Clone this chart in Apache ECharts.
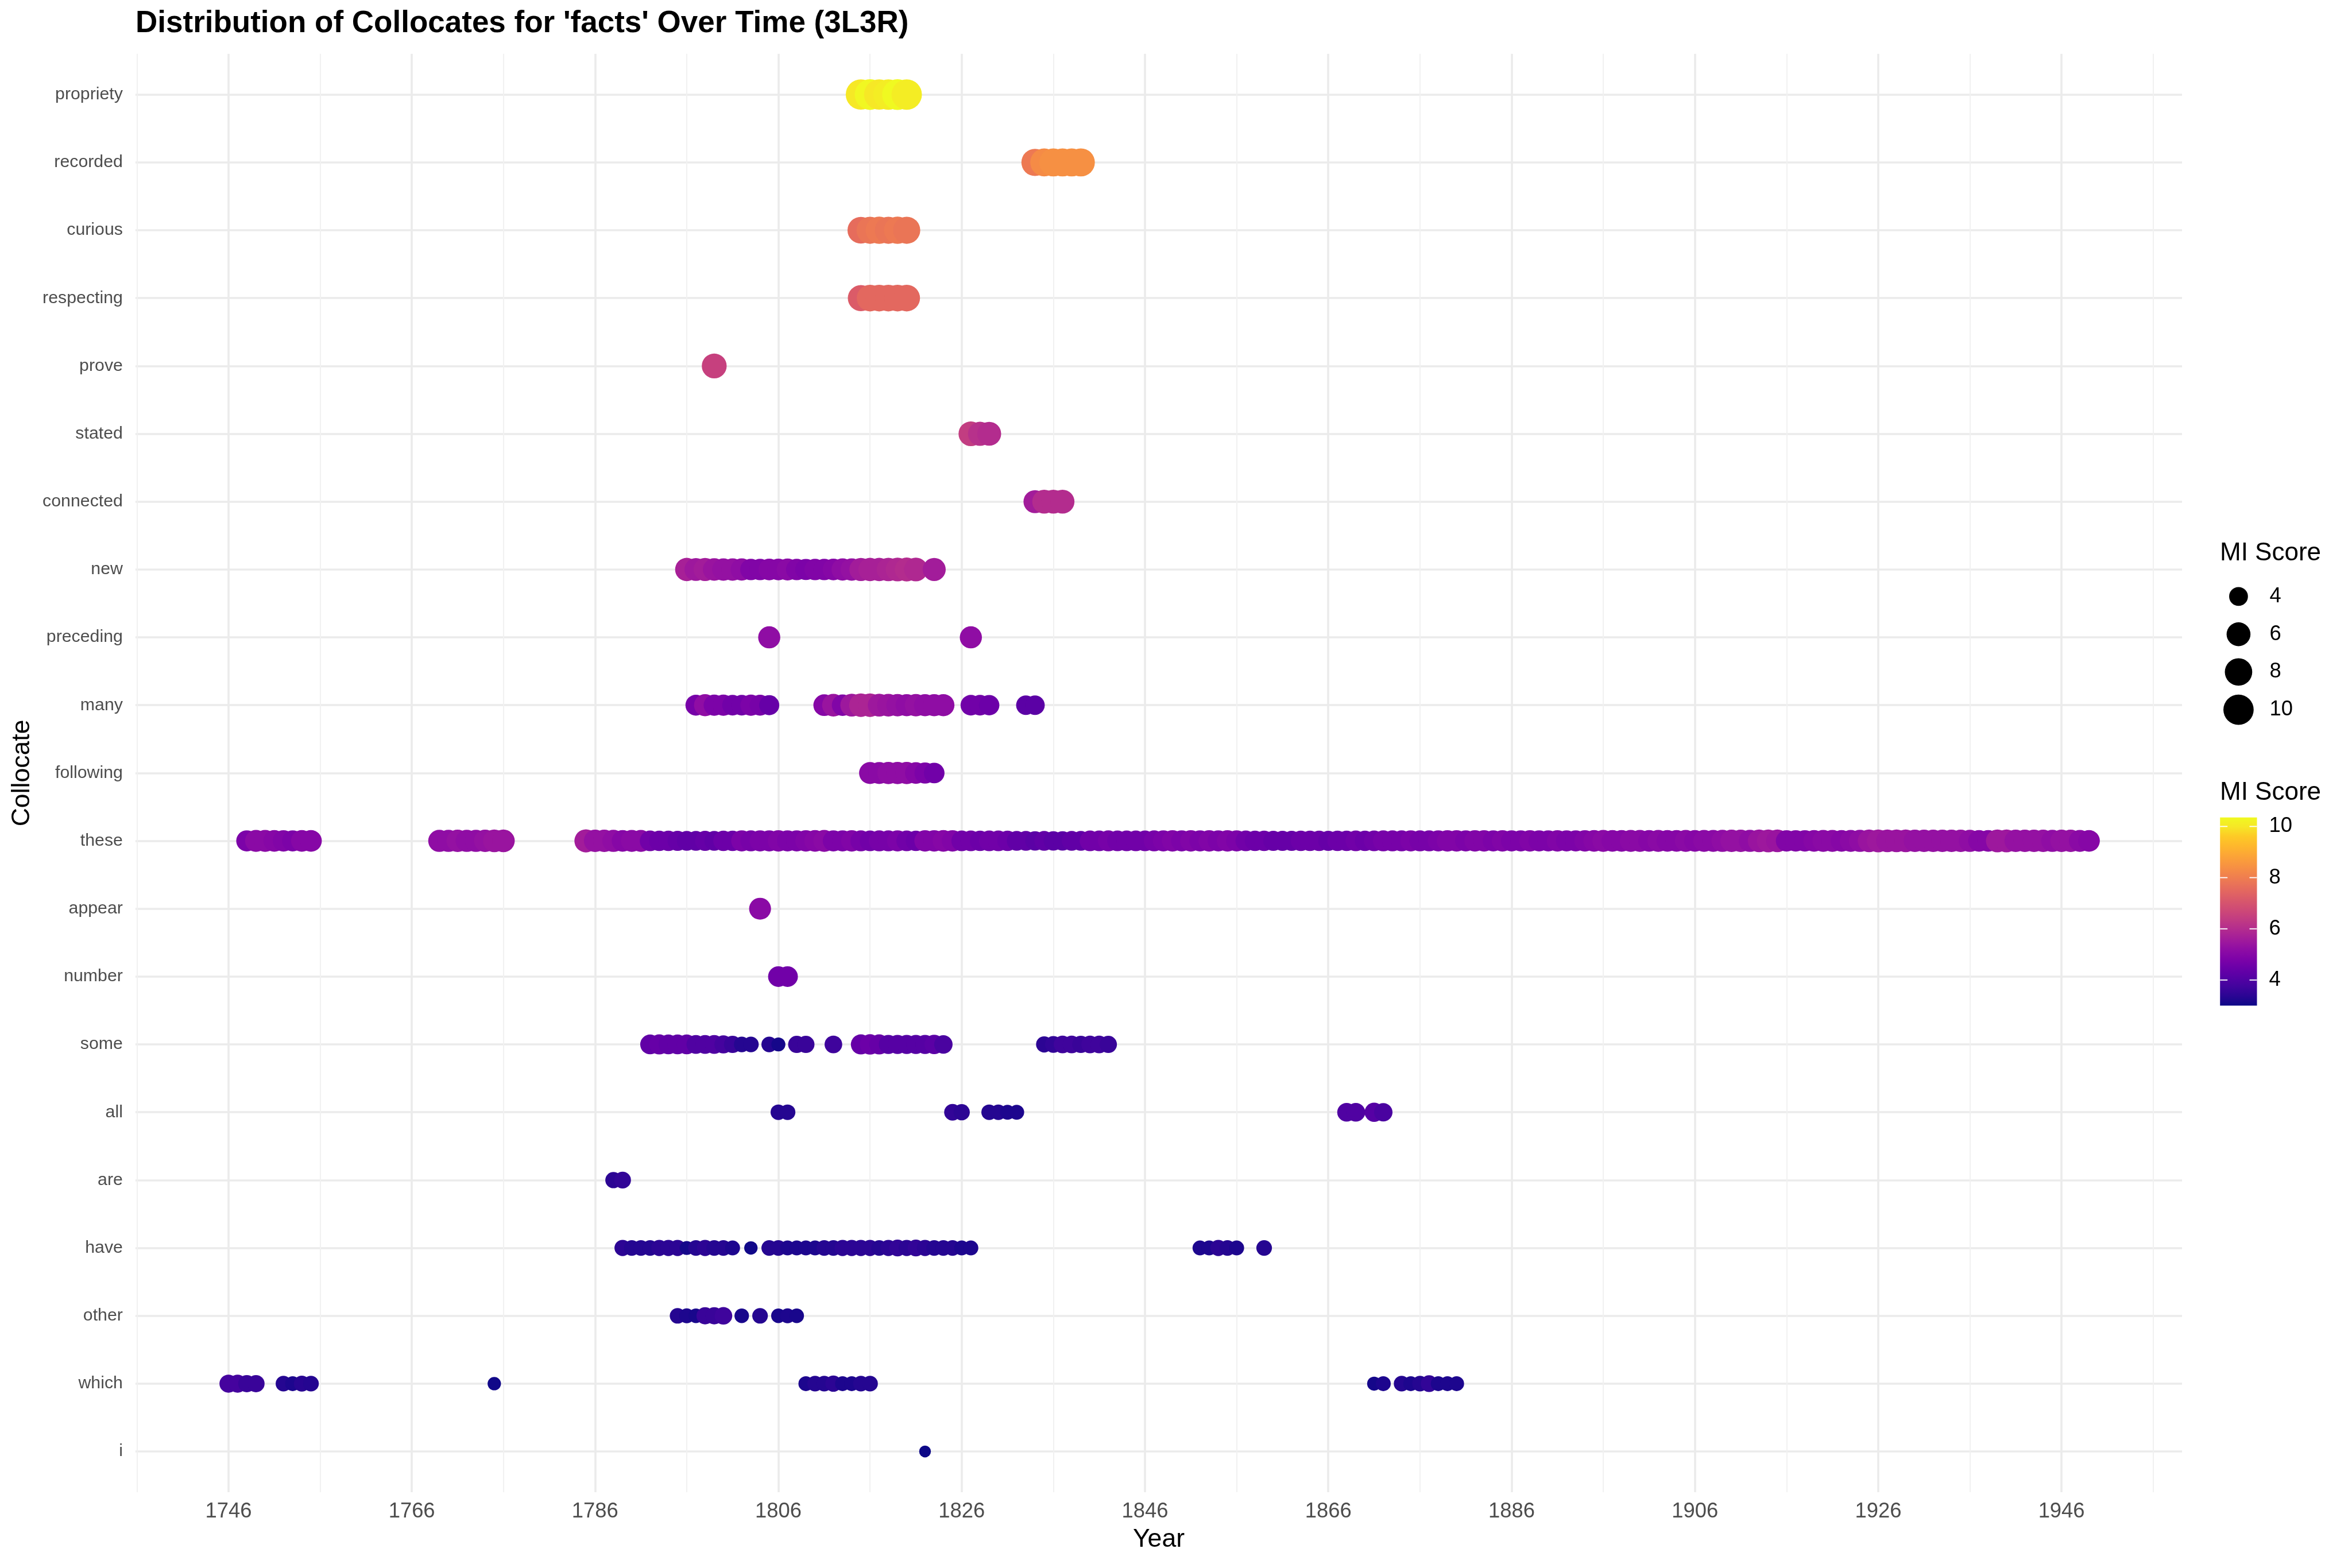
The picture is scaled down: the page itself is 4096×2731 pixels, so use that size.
<!DOCTYPE html>
<html><head><meta charset="utf-8">
<script src="https://cdn.jsdelivr.net/npm/echarts@6/dist/echarts.min.js"></script>
<style>html,body{margin:0;padding:0;background:#fff}#chart{width:4096px;height:2731px}</style>
</head><body><div id="chart"></div>
<script>
// ---------------- DATA ----------------
const collocates = ['i','which','other','have','are','all','some','number','appear','these','following','many','preceding','new','connected','stated','prove','respecting','curious','recorded','propriety'];
const xTickLabels = [1746,1766,1786,1806,1826,1846,1866,1886,1906,1926,1946];
const xMinorBreaks = [1736,1756,1776,1796,1816,1836,1856,1876,1896,1916,1936,1956];
const colorTicks = [4,6,8,10];
const sizeBreaks = [4,6,8,10];

const yrs_i = [1822];
const mi_i = [3.0];

const yrs_which = [1746,1747,1748,1749,1752,1753,1754,1755,1775,1809,1810,1811,1812,1813,1814,1815,1816,1871,1872,1874,1875,1876,1877,1878,1879,1880];
const mi_which  = [3.8,3.8,3.6,3.6,3.3,3.2,3.35,3.3,3.05,3.2,3.3,3.3,3.4,3.2,3.2,3.3,3.3,3.1,3.2,3.3,3.2,3.3,3.5,3.2,3.2,3.2];

const yrs_other = [1795,1796,1797,1798,1799,1800,1802,1804,1806,1807,1808];
const mi_other  = [3.3,3.2,3.15,3.6,3.6,3.7,3.15,3.3,3.15,3.2,3.15];

const yrs_have = [1789,1790,1791,1792,1793,1794,1795,1796,1797,1798,1799,1800,1801,1803,
  1805,1806,1807,1808,1809,1810,1811,1812,1813,1814,1815,1816,1817,1818,1819,1820,1821,1822,1823,1824,1825,1826,1827,
  1852,1853,1854,1855,1856,1859];
const mi_have  = [3.4,3.3,3.3,3.3,3.4,3.4,3.4,3.1,3.3,3.4,3.3,3.3,3.2,3.05,
  3.3,3.3,3.2,3.2,3.2,3.2,3.3,3.3,3.4,3.4,3.4,3.4,3.3,3.4,3.5,3.4,3.5,3.4,3.3,3.3,3.3,3.2,3.2,
  3.2,3.2,3.4,3.3,3.2,3.3];

const yrs_are = [1788,1789];
const mi_are  = [3.4,3.5];

const yrs_all = [1806,1807,1825,1826,1829,1830,1831,1832,1868,1869,1871,1872];
const mi_all  = [3.3,3.3,3.5,3.4,3.3,3.3,3.2,3.2,4.0,4.0,4.1,3.9];

const yrs_some = [1792,1793,1794,1795,1796,1797,1798,1799,1800,1801,1802,1803,1805,1806,1808,1809,1812,
  1815,1816,1817,1818,1819,1820,1821,1822,1823,1824,1835,1836,1837,1838,1839,1840,1841,1842];
const mi_some  = [4.3,4.4,4.3,4.3,4.3,4.0,4.0,4.0,3.8,3.6,3.3,3.3,3.3,3.1,3.6,3.6,3.7,
  4.4,4.5,4.4,4.1,4.1,4.1,4.1,4.1,4.2,3.9,3.4,3.5,3.7,3.7,3.6,3.7,3.7,3.6];

const yrs_number = [1806,1807];
const mi_number  = [4.6,4.6];

const yrs_appear = [1804];
const mi_appear  = [5.1];

const yrs_these = [1748,1749,1750,1751,1752,1753,1754,1755,
  1769,1770,1771,1772,1773,1774,1775,1776,
  1785,1786,1787,1788,1789,1790,1791,1792,1793,1794,
  1795,1796,1797,1798,1799,1800,1801,1802,1803,1804,
  1805,1806,1807,1808,1809,1810,1811,1812,1813,1814,
  1815,1816,1817,1818,1819,1820,1821,1822,1823,1824,
  1825,1826,1827,1828,1829,1830,1831,1832,1833,1834,
  1835,1836,1837,1838,1839,1840,1841,1842,1843,1844,
  1845,1846,1847,1848,1849,1850,1851,1852,1853,1854,
  1855,1856,1857,1858,1859,1860,1861,1862,1863,1864,
  1865,1866,1867,1868,1869,1870,1871,1872,1873,1874,
  1875,1876,1877,1878,1879,1880,1881,1882,1883,1884,
  1885,1886,1887,1888,1889,1890,1891,1892,1893,1894,
  1895,1896,1897,1898,1899,1900,1901,1902,1903,1904,
  1905,1906,1907,1908,1909,1910,1911,1912,1913,1914,
  1915,1916,1917,1918,1919,1920,1921,1922,1923,1924,
  1925,1926,1927,1928,1929,1930,1931,1932,1933,1934,
  1935,1936,1937,1938,1939,1940,1941,1942,1943,1944,
  1945,1946,1947,1948,1949];
const mi_these = [4.8,5.1,5.1,5.0,4.9,4.8,5.0,5.0,
  5.2,5.2,5.3,5.2,5.2,5.3,5.4,5.4,
  5.6,5.3,5.3,5.2,5.0,5.1,5.1,4.6,4.5,4.5,
  4.4,4.3,4.3,4.4,4.3,4.5,4.5,4.8,4.7,4.8,
  4.8,4.9,4.8,4.8,4.9,5.0,5.1,4.8,4.8,4.9,
  4.7,4.6,4.7,4.7,4.8,4.6,4.5,4.9,4.9,5.0,
  4.9,4.6,4.6,4.5,4.6,4.6,4.5,4.3,4.3,4.2,
  4.3,4.2,4.2,4.3,4.3,4.6,4.6,4.7,4.6,4.6,
  4.6,4.6,4.7,4.8,4.9,4.8,4.9,4.8,4.9,4.8,
  4.9,4.8,4.6,4.5,4.5,4.4,4.4,4.4,4.5,4.5,
  4.5,4.4,4.5,4.5,4.6,4.5,4.6,4.7,4.7,4.7,
  4.8,4.7,4.7,4.8,4.9,4.9,4.8,4.9,4.9,4.8,
  4.9,4.8,4.8,4.9,4.8,4.8,4.9,4.8,4.8,4.9,
  5.0,5.1,5.0,5.0,5.1,5.1,5.0,5.1,5.0,5.0,
  5.1,5.0,5.1,5.1,5.2,5.3,5.3,5.2,5.4,5.5,
  5.4,4.9,4.9,4.9,5.0,5.1,5.1,5.0,5.1,5.2,
  5.4,5.5,5.4,5.4,5.4,5.3,5.3,5.3,5.3,5.3,
  5.3,5.2,5.0,5.0,5.5,5.5,5.3,5.3,5.3,5.3,
  5.2,5.3,5.3,5.1,5.0];

const yrs_following = [1816,1817,1818,1819,1820,1821,1822,1823];
const mi_following  = [5.1,5.1,5.2,5.2,5.2,5.0,4.8,4.6];

const yrs_many = [1797,1798,1799,1800,1801,1802,1803,1804,1805,
  1811,1812,1813,1814,1815,1816,1817,1818,1819,1820,1821,1822,1823,1824,
  1827,1828,1829,1833,1834];
const mi_many  = [4.7,5.2,4.8,4.8,4.6,4.6,4.8,4.7,4.4,
  5.0,5.4,4.9,5.5,5.8,5.8,5.5,5.4,5.3,5.2,5.3,5.2,5.2,5.2,
  4.6,4.6,4.5,4.2,4.2];

const yrs_preceding = [1805,1827];
const mi_preceding  = [5.2,5.2];

const yrs_new = [1796,1797,1798,1799,1800,1801,1802,1803,1804,1805,1806,1807,1808,1809,1810,
  1811,1812,1813,1814,1815,1816,1817,1818,1819,1820,1821,1823];
const mi_new  = [5.7,5.5,5.6,5.4,5.3,5.3,5.2,4.9,4.9,5.0,5.0,5.1,4.9,4.8,4.9,
  4.9,5.0,5.2,5.3,5.6,5.7,5.7,5.8,5.9,6.0,5.9,5.6];

const yrs_connected = [1834,1835,1836,1837];
const mi_connected  = [5.6,6.0,6.0,6.0];

const yrs_stated = [1827,1828,1829];
const mi_stated  = [6.4,6.1,6.0];

const yrs_prove = [1799];
const mi_prove  = [6.5];

const yrs_respecting = [1815,1816,1817,1818,1819,1820];
const mi_respecting  = [7.2,7.5,7.5,7.5,7.5,7.5];

const yrs_curious = [1815,1816,1817,1818,1819,1820];
const mi_curious  = [7.6,7.8,7.9,7.8,7.9,7.8];

const yrs_recorded = [1834,1835,1836,1837,1838,1839];
const mi_recorded  = [7.9,8.3,8.4,8.4,8.4,8.4];

const yrs_propriety = [1815,1816,1817,1818,1819,1820];
const mi_propriety  = [10.0,10.3,10.0,10.1,10.35,10.1];

// ---------------- BUILD ----------------
const rowData = [
  [yrs_i,mi_i],[yrs_which,mi_which],[yrs_other,mi_other],[yrs_have,mi_have],[yrs_are,mi_are],
  [yrs_all,mi_all],[yrs_some,mi_some],[yrs_number,mi_number],[yrs_appear,mi_appear],[yrs_these,mi_these],
  [yrs_following,mi_following],[yrs_many,mi_many],[yrs_preceding,mi_preceding],[yrs_new,mi_new],
  [yrs_connected,mi_connected],[yrs_stated,mi_stated],[yrs_prove,mi_prove],[yrs_respecting,mi_respecting],
  [yrs_curious,mi_curious],[yrs_recorded,mi_recorded],[yrs_propriety,mi_propriety]
];
const points = [];
rowData.forEach((r, idx) => r[0].forEach((yr, k) => points.push([yr, idx, r[1][k]])));
const everyMI = points.map(p => p[2]);
const everyYear = points.map(p => p[0]);
const miMin = Math.min(...everyMI), miMax = Math.max(...everyMI);
const yrMin = Math.min(...everyYear), yrMax = Math.max(...everyYear);
const xPad = (yrMax - yrMin) * 0.05;

const S = 0.91;
const FONT = '"Liberation Sans", Arial, Helvetica, sans-serif';
function sizeOf(v){ return S * (22.6 + 36.2 * Math.sqrt(Math.max(0,(v - miMin)) / (miMax - miMin))); }

const plasma = ['#0d0887','#2a0593','#41049d','#5601a4','#6a00a8','#7e03a8','#8f0da4','#a11b9b','#b12a90','#bf3984',
  '#cc4778','#d6556d','#e16462','#ea7457','#f2844b','#f89540','#fca636','#feb82c','#fdca26','#f6e726','#f0f921'];

const chart = echarts.init(document.getElementById('chart'), null, {renderer:'canvas'});
const gridMain = {left:235.9, top:93.8, width:3564.1, height:2505.2};

chart.setOption({
  animation:false,
  backgroundColor:'#ffffff',
  textStyle:{fontFamily:FONT},
  grid:[
    gridMain,
    {left:3866.2, top:1423.8, width:64.3, height:327.7},
    {left:3870, top:1006, width:56.8, height:263}
  ],
  xAxis:[
    {type:'value', gridIndex:0, min:yrMin - xPad, max:yrMax + xPad, position:'bottom',
     axisLine:{show:false}, axisTick:{show:false, customValues:xTickLabels},
     axisLabel:{customValues:xTickLabels, formatter:(v)=>String(Math.round(v)), fontSize:36.4, color:'#4D4D4D', margin:16, fontFamily:FONT},
     splitLine:{show:true, lineStyle:{color:'#EBEBEB', width:3.6}}, z:1},
    {type:'value', gridIndex:0, min:yrMin - xPad, max:yrMax + xPad, position:'top',
     axisLine:{show:false}, axisTick:{show:false, customValues:xMinorBreaks},
     axisLabel:{show:false, customValues:xMinorBreaks},
     splitLine:{show:true, lineStyle:{color:'#F1F1F1', width:2}}, z:0},
    {type:'value', gridIndex:1, min:0, max:1, show:false},
    {type:'value', gridIndex:2, min:0, max:1, show:false}
  ],
  yAxis:[
    {type:'value', gridIndex:0, min:-0.6, max:collocates.length - 1 + 0.6,
     axisLine:{show:false}, axisTick:{show:false, customValues:collocates.map((c,i)=>i)},
     axisLabel:{customValues:collocates.map((c,i)=>i), formatter:(v)=>collocates[Math.round(v)],
       fontSize:30.3, color:'#4D4D4D', margin:22, fontFamily:FONT},
     splitLine:{show:true, lineStyle:{color:'#EBEBEB', width:3.6}}},
    {type:'value', gridIndex:1, min:miMin, max:miMax, position:'right',
     axisLine:{show:false}, axisTick:{show:false, customValues:colorTicks},
     axisLabel:{customValues:colorTicks, formatter:(v)=>String(Math.round(v)), fontSize:36.4, color:'#000000', margin:21, fontFamily:FONT},
     splitLine:{show:false}},
    {type:'value', gridIndex:2, min:3, max:11, inverse:true, show:false}
  ],
  visualMap:[{type:'continuous', show:false, min:miMin, max:miMax, dimension:2, seriesIndex:0,
    inRange:{color:plasma}}],
  series:[
    {type:'scatter', xAxisIndex:0, yAxisIndex:0, data:points, symbol:'circle',
     symbolSize:(val)=>sizeOf(val[2]), itemStyle:{opacity:1}, silent:true, z:3,
     emphasis:{disabled:true}, large:false},
    {type:'custom', xAxisIndex:2, yAxisIndex:1, data:[[0, miMin]], silent:true, clip:false,
     renderItem:(params, api) => {
       const cs = params.coordSys;
       const stops = plasma.map((c,i)=>({offset:i/(plasma.length-1), color:c}));
       const children = [{type:'rect', shape:{x:cs.x, y:cs.y, width:cs.width, height:cs.height},
         style:{fill:new echarts.graphic.LinearGradient(0,1,0,0,stops)}}];
       colorTicks.forEach(v => {
         const y = api.coord([0, v])[1];
         children.push({type:'line', shape:{x1:cs.x, y1:y, x2:cs.x+13, y2:y}, style:{stroke:'#ffffff', lineWidth:1.8}});
         children.push({type:'line', shape:{x1:cs.x+cs.width-13, y1:y, x2:cs.x+cs.width, y2:y}, style:{stroke:'#ffffff', lineWidth:1.8}});
       });
       return {type:'group', children};
     }},
    {type:'scatter', xAxisIndex:3, yAxisIndex:2, data:sizeBreaks.map(v=>[0.5, v]), symbol:'circle',
     symbolSize:(val)=>sizeOf(val[1]), itemStyle:{color:'#000000', opacity:1}, silent:true,
     label:{show:true, position:'inside', offset:[54,0], align:'left', verticalAlign:'middle',
       formatter:(p)=>String(p.value[1]), fontSize:36.4, color:'#000000', fontFamily:FONT}}
  ],
  graphic:[
    {type:'text', x:236, y:41.8, style:{text:"Distribution of Collocates for 'facts' Over Time (3L3R)",
      fontSize:53, fontWeight:'bold', fontFamily:FONT, fill:'#000000', align:'left', verticalAlign:'middle'}},
    {type:'text', x:2018, y:2682, style:{text:'Year', fontSize:44.6, fontFamily:FONT, fill:'#000000', align:'center', verticalAlign:'middle'}},
    {type:'text', x:39, y:1346.4, rotation:Math.PI/2, style:{text:'Collocate', fontSize:44.6, fontFamily:FONT, fill:'#000000', align:'center', verticalAlign:'middle'}},
    {type:'text', x:3866, y:964.3, style:{text:'MI Score', fontSize:44, fontFamily:FONT, fill:'#000000', align:'left', verticalAlign:'middle'}},
    {type:'text', x:3866, y:1380.9, style:{text:'MI Score', fontSize:44, fontFamily:FONT, fill:'#000000', align:'left', verticalAlign:'middle'}}
  ]
});
</script></body></html>
